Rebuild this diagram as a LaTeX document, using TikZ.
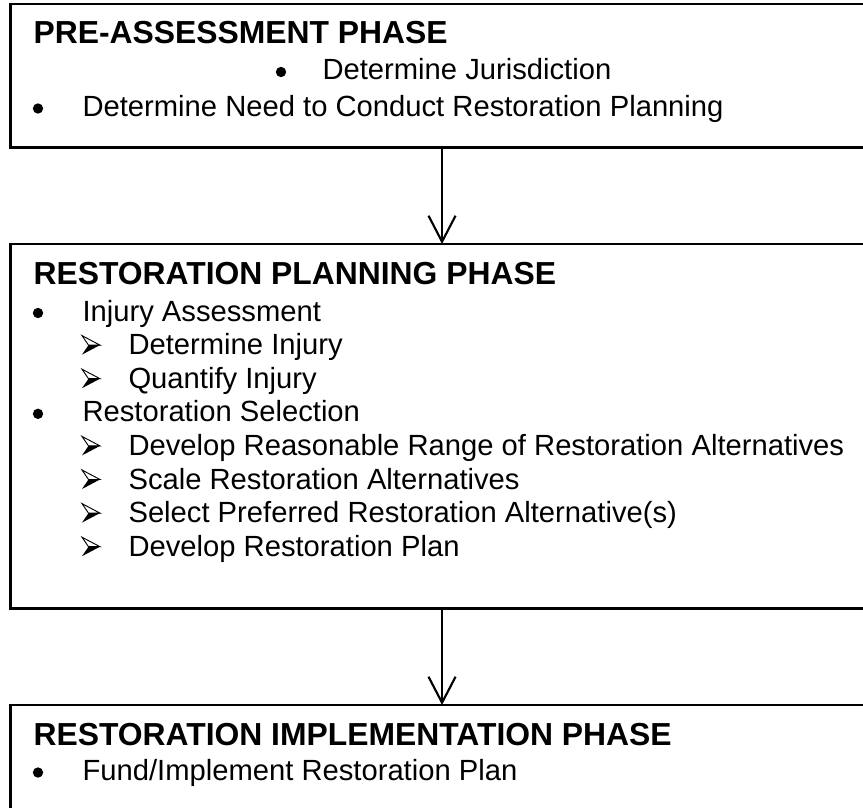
\documentclass[tikz,border=0pt]{standalone}
\usepackage{fontspec}
\setmainfont{Liberation Sans}
\usetikzlibrary{arrows.meta}
\begin{document}
\begin{tikzpicture}[x=0.3768pt, y=-0.3768pt,
  phasebox/.style={draw=black, line width=1.1pt, rectangle, inner sep=0pt,
    outer sep=0pt, anchor=north west, minimum width=325.2pt},
  heading/.style={anchor=base west, inner sep=0pt,
    font=\fontsize{12pt}{14pt}\selectfont\bfseries},
  item/.style={anchor=base west, inner sep=0pt,
    font=\fontsize{11pt}{13pt}\selectfont},
  flow/.style={line width=0.8pt,
    -{Straight Barb[length=9.8pt, width=10.2pt, line width=0.8pt]}},
  dot/.pic={\fill (0,-8) circle[radius=1.95pt];},
  subarrow/.pic={
    \draw[line width=0.35pt, line join=miter] (0,-19) -- (18,-9.5) -- (6.5,-9.5) -- cycle;
    \fill (6.5,-9.5) -- (18,-9.5) -- (0,0) -- cycle;
  }
]
\useasboundingbox (0,0) rectangle (863,807);
\clip (0,0) rectangle (863,807);

% phase boxes
\node[phasebox, minimum height=54pt]    (pre)  at (10.5,4)   {};
\node[phasebox, minimum height=137.2pt] (plan) at (10.5,244) {};
\node[phasebox, minimum height=54pt]    (impl) at (10.5,705) {};

% pre-assessment phase
\node[heading] (preT) at (33,44) {PRE-ASSESSMENT PHASE};
\pic at (281,80) {dot};
\node[item] (pre1) at (322,80) {Determine Jurisdiction};
\pic at (38,116.5) {dot};
\node[item] (pre2) at (82,116.5) {Determine Need to Conduct Restoration Planning};

% restoration planning phase
\node[heading] (planT) at (33,284) {RESTORATION PLANNING PHASE};
\pic at (38,321) {dot};
\node[item] (pl1) at (82,321) {Injury Assessment};
\pic at (82,354.6) {subarrow};
\node[item] (pl2) at (128,354.6) {Determine Injury};
\pic at (82,388.2) {subarrow};
\node[item] (pl3) at (128,388.2) {Quantify Injury};
\pic at (38,421.8) {dot};
\node[item] (pl4) at (82,421.8) {Restoration Selection};
\pic at (82,455.4) {subarrow};
\node[item] (pl5) at (128,455.4) {Develop Reasonable Range of Restoration Alternatives};
\pic at (82,489) {subarrow};
\node[item] (pl6) at (128,489) {Scale Restoration Alternatives};
\pic at (82,522.6) {subarrow};
\node[item] (pl7) at (128,522.6) {Select Preferred Restoration Alternative(s)};
\pic at (82,556.2) {subarrow};
\node[item] (pl8) at (128,556.2) {Develop Restoration Plan};

% restoration implementation phase
\node[heading] (implT) at (33,745) {RESTORATION IMPLEMENTATION PHASE};
\pic at (38,780.5) {dot};
\node[item] (im1) at (82,780.5) {Fund/Implement Restoration Plan};

% flow between phases
\draw[flow] (pre.south) -- (plan.north);
\draw[flow] (plan.south) -- (impl.north);
\end{tikzpicture}
\end{document}
